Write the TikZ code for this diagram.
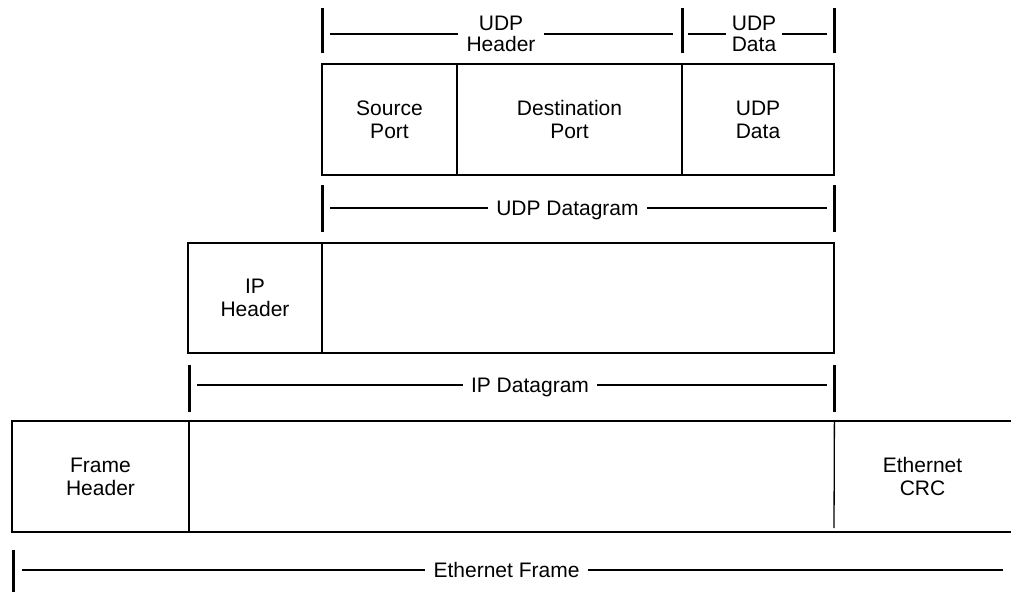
\documentclass[tikz,border=0pt]{standalone}
\usepackage{fontspec}
\setmainfont{Liberation Sans}
\begin{document}
\begin{tikzpicture}[x=1pt,y=-1pt,
  txt/.style={font=\fontsize{21}{23}\selectfont, align=center, inner sep=0pt},
  cell/.style={txt, draw, line width=1.3pt, anchor=north west, outer sep=0pt},
  lbl/.style={txt, inner xsep=8pt},
  tick/.style={line width=3pt},
  rule/.style={line width=1.3pt},
  edge/.style={line width=1.3pt, line cap=rect}]
\useasboundingbox (0,0) rectangle (1011,592);
% ---------- UDP header/data brackets ----------
\coordinate (ta1) at (322,8);  \coordinate (tb1) at (322,53);
\coordinate (ta2) at (682,8);  \coordinate (tb2) at (682,53);
\coordinate (ta3) at (834,8);  \coordinate (tb3) at (834,53);
\draw[tick] (ta1) -- (tb1);
\draw[tick] (ta2) -- (tb2);
\draw[tick] (ta3) -- (tb3);
\node[lbl, font=\fontsize{21}{21}\selectfont] (uh) at (501,34) {UDP\\Header};
\node[lbl, font=\fontsize{21}{21}\selectfont, inner xsep=6pt] (udl) at (754,34) {UDP\\Data};
\coordinate (uh1) at (330,34); \coordinate (uh2) at (673,34);
\coordinate (ud1) at (688,34); \coordinate (ud2) at (827,34);
\draw[rule] (uh1) -- (uh.west);
\draw[rule] (uh.east) -- (uh2);
\draw[rule] (ud1) -- (udl.west);
\draw[rule] (udl.east) -- (ud2);
% ---------- UDP datagram ----------
\node[cell, minimum width=135, minimum height=111] (sp) at (322,64) {Source\\Port};
\node[cell, minimum width=225, minimum height=111] (dp) at (457,64) {Destination\\Port};
\node[cell, minimum width=152, minimum height=111] (ud) at (682,64) {UDP\\Data};
% ---------- UDP datagram bracket ----------
\coordinate (ua1) at (322,185); \coordinate (ub1) at (322,232);
\coordinate (ua2) at (834,185); \coordinate (ub2) at (834,232);
\draw[tick] (ua1) -- (ub1);
\draw[tick] (ua2) -- (ub2);
\node[lbl, text height=15pt, text depth=0pt] (udg) at (567.5,208) {UDP Datagram};
\coordinate (ug1) at (330,208); \coordinate (ug2) at (827,208);
\draw[rule] (ug1) -- (udg.west);
\draw[rule] (udg.east) -- (ug2);
% ---------- IP datagram ----------
\node[cell, minimum width=134, minimum height=110] (iph) at (188,243) {IP\\Header};
\node[cell, minimum width=512, minimum height=110] (ipd) at (322,243) {};
% ---------- IP datagram bracket ----------
\coordinate (ia1) at (189,365); \coordinate (ib1) at (189,412);
\coordinate (ia2) at (834,365); \coordinate (ib2) at (834,412);
\draw[tick] (ia1) -- (ib1);
\draw[tick] (ia2) -- (ib2);
\node[lbl, text height=15pt, text depth=0pt] (ipg) at (530,385) {IP Datagram};
\coordinate (ig1) at (197,385); \coordinate (ig2) at (827,385);
\draw[rule] (ig1) -- (ipg.west);
\draw[rule] (ipg.east) -- (ig2);
% ---------- Ethernet frame ----------
\node[cell, minimum width=177, minimum height=111] (fh) at (12,421) {Frame\\Header};
\node[txt, anchor=north west, minimum width=645, minimum height=111] (fp) at (189,421) {};
\node[txt] (crc) at (922.5,476.5) {Ethernet\\CRC};
\coordinate (fr1) at (1011,421); \coordinate (fr2) at (1011,532);
\coordinate (fpb) at (834,528);
\draw[rule] (fh.north east) -- (fr1);
\draw[rule] (fh.south east) -- (fr2);
\draw[rule] (fp.north east) -- (fpb);
% ---------- Ethernet frame bracket ----------
\coordinate (ea1) at (13,550); \coordinate (eb1) at (13,592);
\draw[tick] (ea1) -- (eb1);
\node[lbl, text height=15pt, text depth=0pt] (efr) at (506.5,570) {Ethernet Frame};
\coordinate (eg1) at (22,570); \coordinate (eg2) at (1003,570);
\draw[rule] (eg1) -- (efr.west);
\draw[rule] (efr.east) -- (eg2);
\end{tikzpicture}
\end{document}
